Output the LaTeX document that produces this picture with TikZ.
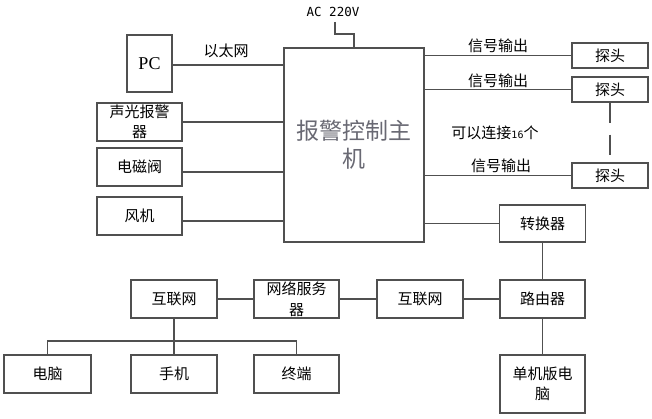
\documentclass[tikz,border=0pt]{standalone}
\usepackage{fontspec}
\setmainfont{Noto Sans CJK SC}
\newfontfamily\pcfont{Liberation Serif}
\newfontfamily\monofont{DejaVu Sans Mono}
\definecolor{linec}{RGB}{80,80,80}
\definecolor{maintext}{RGB}{105,105,115}
\begin{document}
\begin{tikzpicture}[x=1pt,y=-1pt,
  box/.style={draw=linec,line width=1.3pt,inner sep=0pt,align=center,
    font=\fontsize{15}{20}\selectfont},
  conn/.style={draw=linec,line width=1.3pt},
  lbl/.style={inner sep=0pt,font=\fontsize{15}{18}\selectfont}]
\useasboundingbox (0,0) rectangle (652,419);
% main
\node[box,minimum width=140,minimum height=194,text=maintext,
  font=\fontsize{23}{28}\selectfont] (main) at (354,145) {报警控制主\\机};
% left
\node[box,minimum width=45,minimum height=57,font=\pcfont\fontsize{18}{20}\selectfont] (pc) at (149.5,63.5) {PC};
\node[box,minimum width=85,minimum height=38] (alarm) at (139.5,122) {声光报警\\器};
\node[box,minimum width=85,minimum height=38] (valve) at (139.5,167) {电磁阀};
\node[box,minimum width=85,minimum height=38] (fan) at (139.5,216) {风机};
% probes
\node[box,minimum width=76,minimum height=25] (p1) at (610,55.5) {探头};
\node[box,minimum width=76,minimum height=25] (p2) at (610,89.5) {探头};
\node[box,minimum width=76,minimum height=25] (p3) at (610,175.5) {探头};
\node[box,minimum width=86,minimum height=37] (conv) at (542.5,223.5) {转换器};
% bottom
\node[box,minimum width=85,minimum height=38] (router) at (542.5,299) {路由器};
\node[box,minimum width=86,minimum height=38] (inet2) at (420,299) {互联网};
\node[box,minimum width=85,minimum height=38,font=\fontsize{15}{21}\selectfont] (server) at (296.5,299) {网络服务\\器};
\node[box,minimum width=86,minimum height=38] (inet1) at (174,299) {互联网};
\node[box,minimum width=87,minimum height=38] (pc2) at (47.5,374) {电脑};
\node[box,minimum width=86,minimum height=38] (phone) at (174,374) {手机};
\node[box,minimum width=85,minimum height=38] (term) at (296.5,374) {终端};
\node[box,minimum width=85,minimum height=58] (single) at (542.5,384) {单机版电\\脑};
% labels
\node[inner sep=0pt,font=\monofont\fontsize{12.5}{14}\selectfont] (aclbl) at (333,12) {AC 220V};
\node[lbl] (eth) at (226,51) {以太网};
\node[lbl] (s1) at (498,46) {信号输出};
\node[lbl] (s2) at (498,81) {信号输出};
\node[lbl] (s3) at (501,166) {信号输出};
\node[lbl] (cnt) at (495,133) {可以连接{\monofont\fontsize{10}{12}\selectfont 16}个};
% connectors
\coordinate (ac) at (335,22);
\coordinate (acb) at (354,34);
\draw[conn] (ac) |- (acb) -- (main.north);
\draw[conn] ([yshift=-1.5pt]pc.east) -- ([yshift=-1.5pt]pc.east -| main.west);
\draw[conn] (alarm.east) -- (alarm.east -| main.west);
\draw[conn] ([yshift=-5pt]valve.east) -- ([yshift=-5pt]valve.east -| main.west);
\draw[conn] ([yshift=-5pt]fan.east) -- ([yshift=-5pt]fan.east -| main.west);
\draw[conn] (p1.west -| main.east) -- (p1.west);
\draw[conn] (p2.west -| main.east) -- (p2.west);
\draw[conn] (p3.west -| main.east) -- (p3.west);
\draw[conn] (conv.west -| main.east) -- (conv.west);
\draw[conn,dash pattern=on 20pt off 12pt] (p2.south) -- (p3.north);
\draw[conn] (conv.south) -- (router.north);
\draw[conn] (router.south) -- (single.north);
\draw[conn] (router.west) -- (inet2.east);
\draw[conn] (inet2.west) -- (server.east);
\draw[conn] (server.west) -- (inet1.east);
\draw[conn] (inet1.south) -- (phone.north);
\coordinate (bus) at (174,341);
\draw[conn] (pc2.north) |- (bus) -| (term.north);
\end{tikzpicture}
\end{document}
